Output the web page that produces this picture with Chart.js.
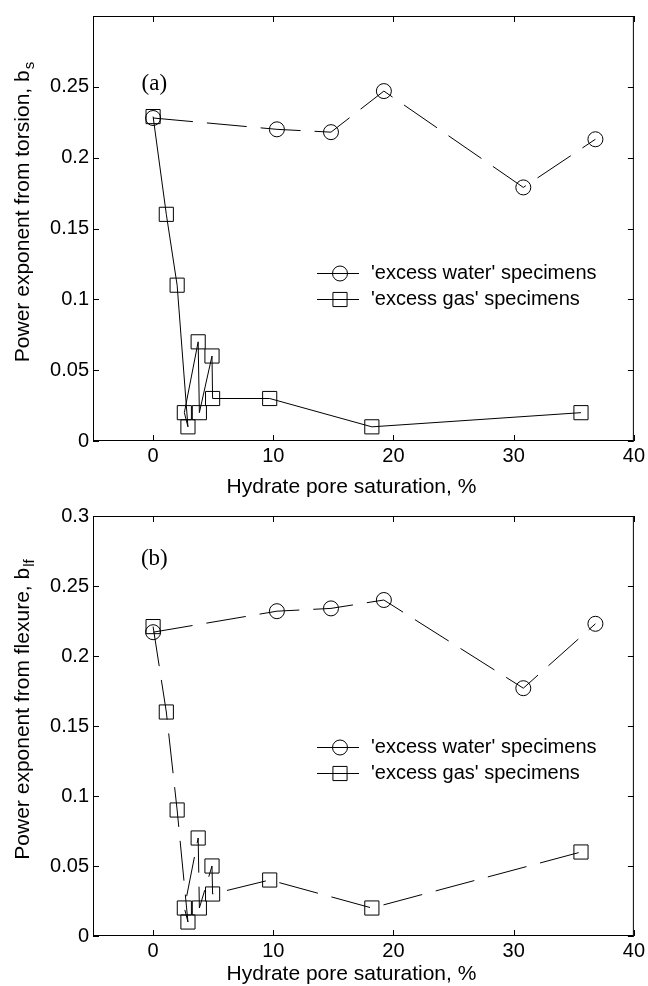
<!DOCTYPE html>
<html>
<head>
<meta charset="utf-8">
<script src="https://cdn.jsdelivr.net/npm/chart.js@4/dist/chart.umd.min.js"></script>
<style>
  body { margin: 0; background: #fff; }
  canvas { display: block; }
</style>
</head>
<body>
<canvas id="torsion" width="648" height="500"></canvas>
<canvas id="flexure" width="648" height="486"></canvas>
<script>
// Hydrate pore saturation (%) vs power exponents, two panels

var waterX = [0, 10.3, 14.8, 19.2, 30.8, 36.8];
var waterTorsion = [0.228, 0.220, 0.218, 0.247, 0.179, 0.213];
var waterFlexure = [0.217, 0.232, 0.234, 0.240, 0.177, 0.223];

var gasX = [0, 1.1, 2.0, 2.9, 2.6, 3.75, 3.85, 4.9, 4.95, 9.7, 18.2, 35.6];
var gasTorsion = [0.229, 0.16, 0.11, 0.01, 0.02, 0.07, 0.02, 0.06, 0.03, 0.03, 0.01, 0.02];
var gasFlexure = [0.221, 0.16, 0.09, 0.01, 0.02, 0.07, 0.02, 0.05, 0.03, 0.04, 0.02, 0.06];

var xTicks = [0, 10, 20, 30, 40];
var yTicks = [0, 0.05, 0.1, 0.15, 0.2, 0.25, 0.3];

var seriesNames = ["'excess water' specimens", "'excess gas' specimens"];
var xTitle = 'Hydrate pore saturation, %';

var FONT = "'Liberation Sans', Arial, sans-serif";
var DASH = [40, 14];

function pts(xs, ys) {
  return xs.map(function (x, i) { return { x: x, y: ys[i] }; });
}

// frame, inward ticks, titles, panel label, legend
var decor = {
  id: 'decor',
  afterDraw: function (chart) {
    var c = chart.options.plugins.decor;
    var ctx = chart.ctx;
    var a = chart.chartArea;
    var xs = chart.scales.x, ys = chart.scales.y;
    ctx.save();
    ctx.strokeStyle = '#000';
    ctx.lineWidth = 1;
    ctx.setLineDash([]);
    ctx.strokeRect(a.left + 0.5, a.top + 0.5, a.right - a.left - 1, a.bottom - a.top - 1);
    ctx.beginPath();
    xTicks.forEach(function (v) {
      var px = Math.round(xs.getPixelForValue(v)) + 0.5;
      ctx.moveTo(px, a.bottom); ctx.lineTo(px, a.bottom - 6);
      ctx.moveTo(px, a.top); ctx.lineTo(px, a.top + 6);
    });
    yTicks.forEach(function (v) {
      var py = Math.round(ys.getPixelForValue(v)) + 0.5;
      ctx.moveTo(a.left, py); ctx.lineTo(a.left + 6, py);
      ctx.moveTo(a.right, py); ctx.lineTo(a.right - 6, py);
    });
    ctx.stroke();

    ctx.fillStyle = '#000';
    // x title
    ctx.font = '21px ' + FONT;
    ctx.textAlign = 'center';
    ctx.textBaseline = 'middle';
    ctx.fillText(xTitle, (a.left + a.right) / 2 - 12, a.bottom + c.xTitleGap);

    // y title with subscript
    ctx.font = '21px ' + FONT;
    var wMain = ctx.measureText(c.yTitle).width;
    ctx.font = '15px ' + FONT;
    var wSub = ctx.measureText(c.ySub).width;
    var total = wMain + wSub;
    ctx.save();
    ctx.translate(23, (a.top + a.bottom) / 2 - 16);
    ctx.rotate(-Math.PI / 2);
    ctx.textAlign = 'left';
    ctx.textBaseline = 'middle';
    ctx.font = '21px ' + FONT;
    ctx.fillText(c.yTitle, -total / 2, 0);
    ctx.font = '15px ' + FONT;
    ctx.fillText(c.ySub, -total / 2 + wMain + 1, 7);
    ctx.restore();

    // panel label
    ctx.font = "23px 'Liberation Serif', 'Times New Roman', serif";
    ctx.textAlign = 'center';
    ctx.fillText(c.panel, xs.getPixelForValue(c.panelAt[0]), ys.getPixelForValue(c.panelAt[1]));

    // legend
    ctx.textAlign = 'left';
    ctx.font = '20px ' + FONT;
    chart.data.datasets.forEach(function (ds, i) {
      var y = c.legendY + i * 26 + 0.5;
      ctx.beginPath();
      ctx.moveTo(c.legendX, y);
      ctx.lineTo(c.legendX + 42, y);
      ctx.stroke();
      var mx = c.legendX + 23;
      ctx.beginPath();
      if (ds.pointStyle === 'circle') {
        ctx.arc(mx, y, ds.pointRadius, 0, Math.PI * 2);
      } else {
        var h = ds.pointRadius * Math.SQRT1_2;
        ctx.rect(mx - h, y - h, 2 * h, 2 * h);
      }
      ctx.stroke();
      ctx.fillText(ds.label, c.legendX + 54, y);
    });
    ctx.restore();
  }
};

function makeChart(id, water, gas, gasDash, cfg) {
  return new Chart(document.getElementById(id), {
    type: 'scatter',
    data: {
      datasets: [{
        label: seriesNames[0],
        data: pts(waterX, water),
        showLine: true,
        borderColor: '#000',
        borderWidth: 1,
        borderDash: DASH,
        pointStyle: 'circle',
        pointRadius: 7.5,
        pointBorderWidth: 1,
        pointBorderColor: '#000',
        pointBackgroundColor: 'rgba(0,0,0,0)'
      }, {
        label: seriesNames[1],
        data: pts(gasX, gas),
        showLine: true,
        borderColor: '#000',
        borderWidth: 1,
        borderDash: gasDash,
        pointStyle: 'rect',
        pointRadius: 10,
        pointBorderWidth: 1,
        pointBorderColor: '#000',
        pointBackgroundColor: 'rgba(0,0,0,0)'
      }]
    },
    options: {
      responsive: false,
      animation: false,
      layout: { padding: { top: cfg.padTop, right: 13, left: 0, bottom: 0 } },
      scales: {
        x: {
          type: 'linear',
          min: -5,
          max: 40,
          grid: { display: false, drawTicks: false },
          border: { display: false },
          afterFit: function (s) { s.height = cfg.xHeight; },
          afterBuildTicks: function (s) {
            s.ticks = xTicks.map(function (v) { return { value: v }; });
          },
          ticks: {
            color: '#000',
            padding: 3,
            maxRotation: 0,
            font: { family: FONT, size: 20 },
            callback: function (v) { return String(v); }
          }
        },
        y: {
          type: 'linear',
          min: 0,
          max: 0.3,
          grid: { display: false, drawTicks: false },
          border: { display: false },
          afterFit: function (s) { s.width = 93; },
          afterBuildTicks: function (s) {
            s.ticks = yTicks.map(function (v) { return { value: v }; });
          },
          ticks: {
            color: '#000',
            padding: 4,
            font: { family: FONT, size: 20 },
            callback: function (v) {
              if (cfg.hideTop && v === 0.3) return '';
              return String(v);
            }
          }
        }
      },
      plugins: {
        legend: { display: false },
        tooltip: { enabled: false },
        decor: cfg
      }
    },
    plugins: [decor]
  });
}

makeChart('torsion', waterTorsion, gasTorsion, [], {
  padTop: 13, xHeight: 59, hideTop: true, xTitleGap: 46,
  yTitle: 'Power exponent from torsion, b', ySub: 's',
  panel: '(a)', panelAt: [0.1, 0.252],
  legendX: 317, legendY: 273
});

makeChart('flexure', waterFlexure, gasFlexure, DASH, {
  padTop: 9, xHeight: 50, hideTop: false, xTitleGap: 38,
  yTitle: 'Power exponent from flexure, b', ySub: 'lf',
  panel: '(b)', panelAt: [0.1, 0.269],
  legendX: 317, legendY: 247
});
</script>
</body>
</html>
